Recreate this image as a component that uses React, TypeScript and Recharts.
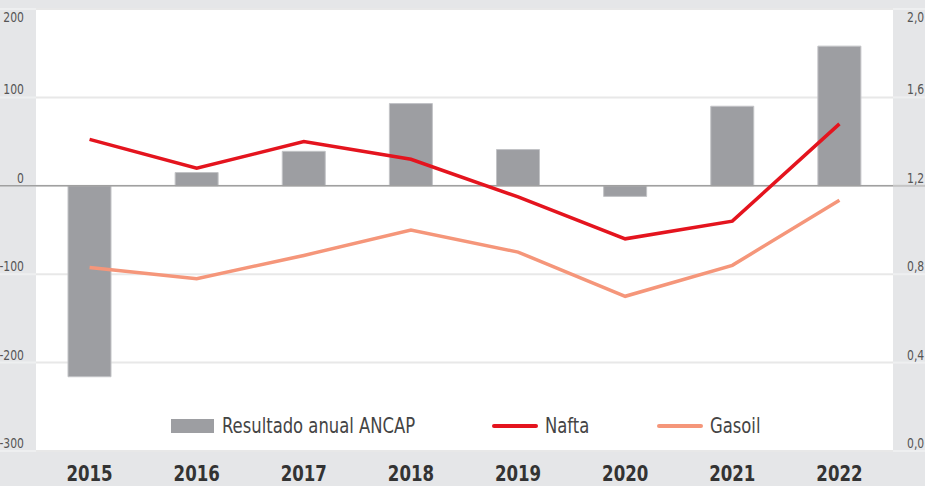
import { Bar, CartesianGrid, ComposedChart, Legend, Line, ReferenceLine, XAxis, YAxis } from "recharts";

// ANCAP annual result (bars, left axis) against Nafta / Gasoil prices (lines, right axis).

const years = ["2015", "2016", "2017", "2018", "2019", "2020", "2021", "2022"];
const resultado = [-216, 15, 39, 93, 41, -12, 90, 158];
const nafta = [1.41, 1.28, 1.4, 1.32, 1.15, 0.96, 1.04, 1.48];
const gasoil = [0.83, 0.78, 0.885, 1.0, 0.9, 0.7, 0.84, 1.135];

const leftTicks = [-300, -200, -100, 0, 100, 200];
const rightTicks = [0, 0.4, 0.8, 1.2, 1.6, 2.0];

const data = years.map((year, i) => ({ year, resultado: resultado[i], nafta: nafta[i], gasoil: gasoil[i] }));

const W = 925;
const H = 486;
const LEFT_W = 36;
const RIGHT_W = 32;
// no narrow font installed: condensed DejaVu squeezed horizontally to get the same look
const FONT = '"DejaVu Sans Condensed", "DejaVu Sans", sans-serif';
const BG = "#e5e6e8";
const NAFTA = "#e4141e";
const GASOIL = "#f5967a";
const BAR = "#9d9ea2";

// Tick labels sit just above their gridline; the top one is pushed below so it isn't clipped.
const LeftTick = (props: any) => {
  const { y, payload } = props;
  const v = payload.value as number;
  const isTop = v === leftTicks[leftTicks.length - 1];
  return (
    <g>
      <line x1={0} x2={LEFT_W} y1={y} y2={y} stroke={v === 0 ? "#a0a0a0" : "#eeeff0"} strokeWidth={v === 0 ? 1.5 : 2} />
      <text
        transform={`translate(24 ${y + (isTop ? 12.5 : -3)}) scale(0.83 1)`}
        textAnchor="end"
        fontFamily={FONT}
        fontSize={14.5}
        fill="#555"
      >
        {v}
      </text>
    </g>
  );
};

const RightTick = (props: any) => {
  const { y, payload } = props;
  const v = payload.value as number;
  const isTop = v === rightTicks[rightTicks.length - 1];
  return (
    <g>
      <line x1={W - RIGHT_W} x2={W} y1={y} y2={y} stroke={v === 1.2 ? "#c4c4c4" : "#eeeff0"} strokeWidth={2} />
      <text
        transform={`translate(${W - RIGHT_W + 14} ${y + (isTop ? 12.5 : -3)}) scale(0.83 1)`}
        textAnchor="start"
        fontFamily={FONT}
        fontSize={14.5}
        fill="#555"
      >
        {v.toFixed(1).replace(".", ",")}
      </text>
    </g>
  );
};

const YearTick = (props: any) => {
  const { x, y, payload } = props;
  return (
    <text
      transform={`translate(${x} ${y + 22}) scale(0.9 1)`}
      textAnchor="middle"
      fontFamily={FONT}
      fontSize={20.5}
      fontWeight="bold"
      fill="#333"
    >
      {payload.value}
    </text>
  );
};

const legendItems = [
  { name: "Resultado anual ANCAP", color: BAR, kind: "bar", left: 171 },
  { name: "Nafta", color: NAFTA, kind: "line", left: 492 },
  { name: "Gasoil", color: GASOIL, kind: "line", left: 657 },
];

const renderLegend = () => (
  <div style={{ position: "relative", height: 24, fontFamily: FONT, fontSize: 20.5, color: "#444" }}>
    {legendItems.map((item) => (
      <div
        key={item.name}
        style={{ position: "absolute", left: item.left, top: 0, height: 24, display: "flex", alignItems: "center", whiteSpace: "nowrap" }}
      >
        <span
          style={{
            display: "inline-block",
            width: item.kind === "bar" ? 43 : 46,
            height: item.kind === "bar" ? 14 : 4,
            borderRadius: item.kind === "bar" ? 0 : 2,
            background: item.color,
            marginRight: item.kind === "bar" ? 8 : 7,
          }}
        />
        <span style={{ display: "inline-block", transform: "scaleX(0.89)", transformOrigin: "left center" }}>{item.name}</span>
      </div>
    ))}
  </div>
);

export default function App() {
  return (
    <div style={{ position: "absolute", top: 0, left: 0, width: W, height: H, background: BG }}>
      <ComposedChart width={W} height={H} data={data} margin={{ top: 9, right: 0, bottom: 0, left: 0 }}>
        <CartesianGrid yAxisId="left" vertical={false} fill="#fff" stroke="#e8e8e8" strokeWidth={2} />
        <XAxis dataKey="year" height={35} axisLine={false} tickLine={false} tick={<YearTick />} interval={0} />
        <YAxis
          yAxisId="left"
          width={LEFT_W}
          domain={[-300, 200]}
          ticks={leftTicks}
          axisLine={false}
          tickLine={false}
          tick={<LeftTick />}
        />
        <YAxis
          yAxisId="right"
          orientation="right"
          width={RIGHT_W}
          domain={[0, 2]}
          ticks={rightTicks}
          axisLine={false}
          tickLine={false}
          tick={<RightTick />}
        />
        <Bar yAxisId="left" dataKey="resultado" name="Resultado anual ANCAP" barSize={43} fill={BAR} stroke="#c2c3c6" strokeWidth={1} isAnimationActive={false} />
        <ReferenceLine yAxisId="left" y={0} stroke="#a0a0a0" strokeWidth={1.5} />
        <Line yAxisId="right" type="linear" dataKey="gasoil" name="Gasoil" stroke={GASOIL} strokeWidth={3.5} dot={false} isAnimationActive={false} />
        <Line yAxisId="right" type="linear" dataKey="nafta" name="Nafta" stroke={NAFTA} strokeWidth={3.5} dot={false} isAnimationActive={false} />
        <Legend
          layout="horizontal"
          verticalAlign="middle"
          align="center"
          content={renderLegend}
          wrapperStyle={{ top: 414, left: 0, width: W, height: 24 }}
        />
      </ComposedChart>
    </div>
  );
}
